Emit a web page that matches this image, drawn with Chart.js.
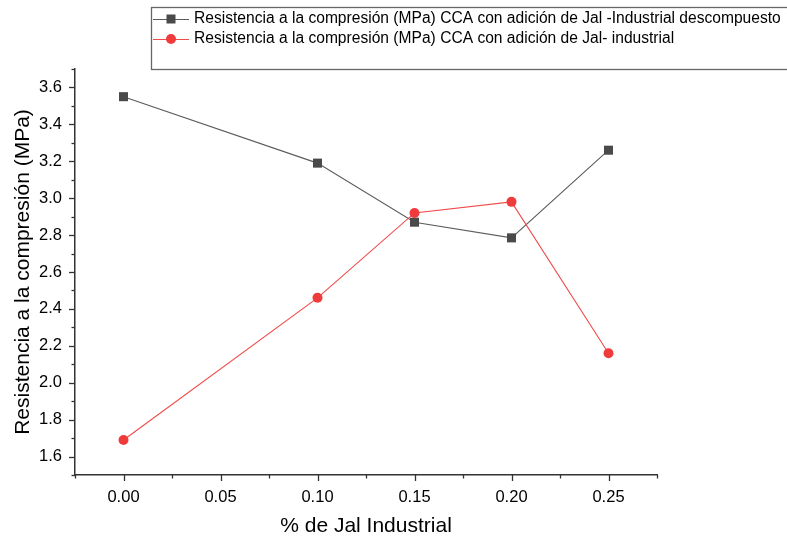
<!DOCTYPE html>
<html>
<head>
<meta charset="utf-8">
<script src="https://cdn.jsdelivr.net/npm/chart.js@4.4.1/dist/chart.umd.min.js"></script>
<style>
  html, body { margin: 0; padding: 0; background: #fff; }
  #wrap { width: 787px; height: 539px; }
</style>
</head>
<body>
<div id="wrap"><canvas id="c" width="787" height="539"></canvas></div>
<script>
const xValues = [0, 0.10, 0.15, 0.20, 0.25];
const seriesDescompuesto = [3.55, 3.19, 2.87, 2.785, 3.26];
const seriesIndustrial = [1.69, 2.46, 2.92, 2.98, 2.16];
const seriesLabels = [
  'Resistencia a la compresión (MPa) CCA con adición de Jal -Industrial descompuesto',
  'Resistencia a la compresión (MPa) CCA con adición de Jal- industrial'
];
const xTitle = '% de Jal Industrial';
const yTitle = 'Resistencia a la compresión (MPa)';

const FONT = '"Liberation Sans", Arial, sans-serif';
const BLACK_MARK = '#4a4a4a';
const BLACK_LINE = '#5c5c5c';
const RED_MARK = '#ef3b3b';
const RED_LINE = '#f04a4a';

const toPoints = ys => xValues.map((x, i) => ({ x: x, y: ys[i] }));

const tickPlugin = {
  id: 'ticksAndLegend',
  afterDraw(chart) {
    const ctx = chart.ctx;
    const xs = chart.scales.x, ys = chart.scales.y;
    const area = chart.chartArea;
    ctx.save();
    ctx.strokeStyle = '#333';
    ctx.lineWidth = 1.3;
    xs.ticks.forEach(t => {
      const px = Math.round(xs.getPixelForValue(t.value)) + 0.5;
      const major = Math.abs(Math.round(t.value * 1000)) % 50 === 0;
      ctx.beginPath();
      ctx.moveTo(px, area.bottom);
      ctx.lineTo(px, area.bottom + (major ? 6 : 3.5));
      ctx.stroke();
    });
    ys.ticks.forEach(t => {
      const py = Math.round(ys.getPixelForValue(t.value)) + 0.5;
      const major = Math.round(t.value * 10) % 2 === 0;
      ctx.beginPath();
      ctx.moveTo(area.left, py);
      ctx.lineTo(area.left - (major ? 6 : 3.5), py);
      ctx.stroke();
    });
    // legend box
    ctx.strokeStyle = '#666';
    ctx.lineWidth = 1.3;
    ctx.strokeRect(151.5, 7.5, 700, 62);
    const rows = [
      { y: 19, line: BLACK_LINE, mark: BLACK_MARK, style: 'rect' },
      { y: 39, line: RED_LINE, mark: RED_MARK, style: 'circle' }
    ];
    ctx.font = '15.6px ' + FONT;
    ctx.textBaseline = 'middle';
    ctx.textAlign = 'left';
    rows.forEach((r, i) => {
      ctx.strokeStyle = r.line;
      ctx.lineWidth = 1.2;
      ctx.beginPath();
      ctx.moveTo(153, r.y + 0.5);
      ctx.lineTo(189, r.y + 0.5);
      ctx.stroke();
      ctx.fillStyle = r.mark;
      if (r.style === 'rect') {
        ctx.fillRect(171 - 4.5, r.y - 4.5, 9, 9);
      } else {
        ctx.beginPath();
        ctx.arc(171, r.y, 5, 0, Math.PI * 2);
        ctx.fill();
      }
      ctx.fillStyle = '#000';
      ctx.fillText(seriesLabels[i], 194, r.y);
    });
    ctx.restore();
  }
};

new Chart(document.getElementById('c'), {
  type: 'line',
  data: {
    datasets: [
      {
        label: seriesLabels[0],
        data: toPoints(seriesDescompuesto),
        borderColor: BLACK_LINE,
        borderWidth: 1.1,
        backgroundColor: BLACK_MARK,
        pointBackgroundColor: BLACK_MARK,
        pointBorderWidth: 0,
        pointStyle: 'rect',
        pointRadius: 6.4,
        pointHoverRadius: 6.4,
        tension: 0,
        order: 1
      },
      {
        label: seriesLabels[1],
        data: toPoints(seriesIndustrial),
        borderColor: RED_LINE,
        borderWidth: 1.1,
        backgroundColor: RED_MARK,
        pointBackgroundColor: RED_MARK,
        pointBorderWidth: 0,
        pointStyle: 'circle',
        pointRadius: 5,
        pointHoverRadius: 5,
        tension: 0,
        order: 0
      }
    ]
  },
  options: {
    responsive: false,
    animation: false,
    devicePixelRatio: 1,
    layout: { padding: { left: 0, top: 69, right: 130, bottom: 0 } },
    plugins: { legend: { display: false }, tooltip: { enabled: false } },
    scales: {
      x: {
        type: 'linear',
        min: -0.025,
        max: 0.275,
        afterFit(s) { s.height = 64; },
        border: { display: true, color: '#333', width: 1.5 },
        grid: { display: true, drawOnChartArea: false, drawTicks: false },
        ticks: {
          stepSize: 0.025,
          autoSkip: false,
          maxRotation: 0,
          padding: 13,
          color: '#000',
          font: { family: FONT, size: 16.5 },
          callback: v => (Math.abs(Math.round(v * 1000)) % 50 === 0 && v > -0.001) ? v.toFixed(2) : ''
        },
        title: {
          display: true,
          text: xTitle,
          color: '#000',
          font: { family: FONT, size: 21 },
          padding: { top: 0, bottom: 0 }
        }
      },
      y: {
        type: 'linear',
        min: 1.5,
        max: 3.7,
        afterFit(s) { s.width = 75; },
        border: { display: true, color: '#333', width: 1.5 },
        grid: { display: true, drawOnChartArea: false, drawTicks: false },
        ticks: {
          stepSize: 0.1,
          autoSkip: false,
          padding: 13,
          color: '#000',
          font: { family: FONT, size: 16.5 },
          callback: v => (Math.round(v * 10) % 2 === 0) ? v.toFixed(1) : ''
        },
        title: {
          display: true,
          text: yTitle,
          color: '#000',
          font: { family: FONT, size: 21 },
          padding: { top: 11, bottom: 0 }
        }
      }
    }
  },
  plugins: [tickPlugin]
});
</script>
</body>
</html>
